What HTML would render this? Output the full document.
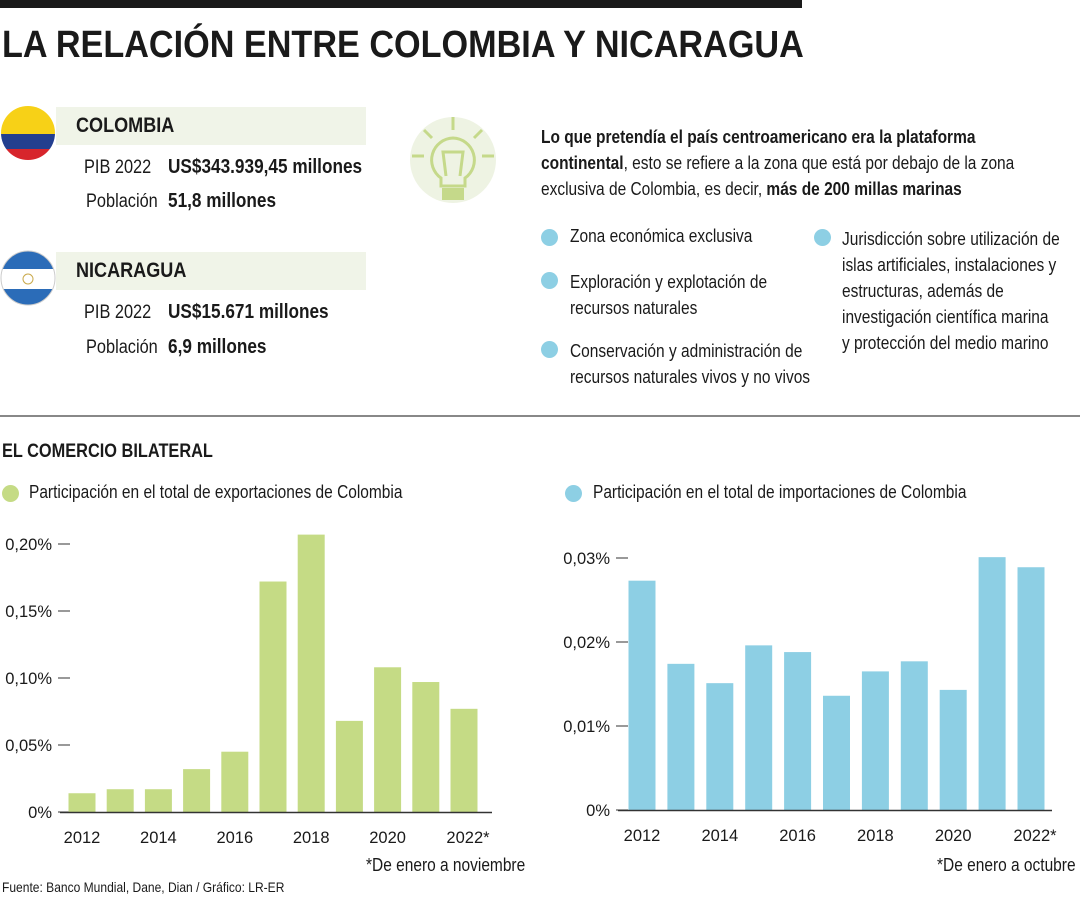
<!DOCTYPE html>
<html><head><meta charset="utf-8">
<style>
body{margin:0;width:1080px;height:900px;background:#fff;font-family:"Liberation Sans Narrow","Liberation Sans",sans-serif;color:#1a1a1a;position:relative;overflow:hidden}
.a{position:absolute;white-space:nowrap}
.n{transform:scaleX(.86);transform-origin:0 0}
.b{font-weight:bold}
.dot{position:absolute;width:17px;height:17px;border-radius:50%;background:#8dcfe4}
</style></head><body>
<div class="a" style="left:0;top:0;width:802px;height:8px;background:#1a1a1a"></div>
<div class="a b" style="left:2px;top:24px;font-size:38px;transform:scaleX(.9);transform-origin:0 0">LA RELACIÓN ENTRE COLOMBIA Y NICARAGUA</div>

<div class="a" style="left:56px;top:107px;width:310px;height:38px;background:#f0f4e8"></div>
<svg class="a" style="left:0;top:105px" width="58" height="58"><defs><clipPath id="c1"><circle cx="28" cy="28" r="27"/></clipPath></defs><g clip-path="url(#c1)"><rect width="58" height="29" fill="#f7d117"/><rect y="29" width="58" height="15" fill="#233f8f"/><rect y="44" width="58" height="14" fill="#d7252c"/></g></svg>
<div class="a b n" style="left:76px;top:114px;font-size:21px">COLOMBIA</div>
<div class="a n" style="left:84px;top:157px;font-size:19px">PIB 2022</div>
<div class="a b n" style="left:168px;top:156px;font-size:20px">US$343.939,45 millones</div>
<div class="a n" style="left:86px;top:191px;font-size:19px">Población</div>
<div class="a b n" style="left:168px;top:190px;font-size:20px">51,8 millones</div>

<div class="a" style="left:56px;top:252px;width:310px;height:38px;background:#f0f4e8"></div>
<svg class="a" style="left:0;top:250px" width="58" height="58"><defs><clipPath id="c2"><circle cx="28" cy="28" r="27"/></clipPath></defs><g clip-path="url(#c2)"><rect width="58" height="19" fill="#2b6cb8"/><rect y="19" width="58" height="20" fill="#fff"/><rect y="39" width="58" height="19" fill="#2b6cb8"/></g><circle cx="28" cy="29" r="5" fill="none" stroke="#c9a94b"/><circle cx="28" cy="28" r="27" fill="none" stroke="#ccc"/></svg>
<div class="a b n" style="left:76px;top:259px;font-size:21px">NICARAGUA</div>
<div class="a n" style="left:84px;top:302px;font-size:19px">PIB 2022</div>
<div class="a b n" style="left:168px;top:301px;font-size:20px">US$15.671 millones</div>
<div class="a n" style="left:86px;top:337px;font-size:19px">Población</div>
<div class="a b n" style="left:168px;top:336px;font-size:20px">6,9 millones</div>

<svg class="a" style="left:410px;top:110px" width="100" height="100"><circle cx="43" cy="50" r="43" fill="#eef3e3"/><g stroke="#c5d98a" stroke-width="3" fill="none"><line x1="43" y1="7" x2="43" y2="20"/><line x1="14" y1="20" x2="22" y2="28"/><line x1="72" y1="20" x2="64" y2="28"/><line x1="2" y1="46" x2="14" y2="46"/><line x1="72" y1="46" x2="84" y2="46"/><path d="M43 28 a22 22 0 0 1 12 40 v8 h-24 v-8 a22 22 0 0 1 12 -40z"/><path d="M36 66 l-3 -24 h20 l-3 24"/></g><rect x="32" y="78" width="22" height="12" fill="#c5d98a"/></svg>

<div class="a n" style="left:541px;top:124px;font-size:18px;line-height:26px"><b>Lo que pretendía el país centroamericano era la plataforma</b><br><b>continental</b>, esto se refiere a la zona que está por debajo de la zona<br>exclusiva de Colombia, es decir, <b>más de 200 millas marinas</b></div>

<div class="dot" style="left:541px;top:229px"></div>
<div class="a n" style="left:570px;top:226px;font-size:18px">Zona económica exclusiva</div>
<div class="dot" style="left:541px;top:272px"></div>
<div class="a n" style="left:570px;top:269px;font-size:18px;line-height:26px">Exploración y explotación de<br>recursos naturales</div>
<div class="dot" style="left:541px;top:341px"></div>
<div class="a n" style="left:570px;top:338px;font-size:18px;line-height:26px">Conservación y administración de<br>recursos naturales vivos y no vivos</div>
<div class="dot" style="left:814px;top:229px"></div>
<div class="a n" style="left:842px;top:226px;font-size:18px;line-height:26px">Jurisdicción sobre utilización de<br>islas artificiales, instalaciones y<br>estructuras, además de<br>investigación científica marina<br>y protección del medio marino</div>

<div class="a" style="left:0;top:415px;width:1080px;height:2px;background:#888"></div>
<div class="a b n" style="left:2px;top:441px;font-size:19px">EL COMERCIO BILATERAL</div>
<div class="dot" style="left:2px;top:485px;background:#c5db85"></div>
<div class="a n" style="left:29px;top:482px;font-size:18px">Participación en el total de exportaciones de Colombia</div>
<div class="dot" style="left:565px;top:485px"></div>
<div class="a n" style="left:593px;top:482px;font-size:18px">Participación en el total de importaciones de Colombia</div>

<svg class="a" id="charts" style="left:0;top:0" width="1080" height="900"></svg>

<div class="a n" style="left:366px;top:855px;font-size:18px">*De enero a noviembre</div>
<div class="a n" style="left:937px;top:855px;font-size:18px">*De enero a octubre</div>
<div class="a n" style="left:2px;top:879px;font-size:14px">Fuente:  Banco Mundial, Dane, Dian / Gráfico: LR-ER</div>

<script>
const years=["2012","2013","2014","2015","2016","2017","2018","2019","2020","2021","2022"];
const yearLabels=["2012","","2014","","2016","","2018","","2020","","2022*"];
const exportsVals=[0.014,0.017,0.017,0.032,0.045,0.172,0.207,0.068,0.108,0.097,0.077];
const importsVals=[0.0273,0.0174,0.0151,0.0196,0.0188,0.0136,0.0165,0.0177,0.0143,0.0301,0.0289];
const exportTicks=[0,0.05,0.10,0.15,0.20];
const exportTickLabels=["0%","0,05%","0,10%","0,15%","0,20%"];
const importTicks=[0,0.01,0.02,0.03];
const importTickLabels=["0%","0,01%","0,02%","0,03%"];
const NS="http://www.w3.org/2000/svg";
const svg=document.getElementById('charts');
const FF='"Liberation Sans Narrow","Liberation Sans",sans-serif';
function mk(t,a){const e=document.createElementNS(NS,t);for(const k in a)e.setAttribute(k,a[k]);svg.appendChild(e);return e;}
function chart(cfg){
  const y=v=>cfg.y0-(v/cfg.vmax)*(cfg.y0-cfg.ytop);
  const x=i=>cfg.x0+i*cfg.step;
  cfg.ticks.forEach((t,i)=>{
    const l=mk('line',{x1:cfg.tx+6,x2:cfg.tx+18,y1:y(t),y2:y(t),stroke:'#333','stroke-width':1});
    
    
    const tx=mk('text',{x:cfg.tx,y:y(t)+6,'text-anchor':'end','font-size':16.5,fill:'#1a1a1a','font-family':FF});
    tx.textContent=cfg.labels[i];
    
    
  });
  cfg.vals.forEach((v,i)=>{
    const r=mk('rect',{x:x(i)-13.5,y:y(v),width:27,height:cfg.y0-y(v),fill:cfg.color});
    
    
  });
  const ax=mk('line',{x1:cfg.axl,x2:cfg.axr,y1:cfg.y0+0.5,y2:cfg.y0+0.5,stroke:'#333','stroke-width':1.5});
  
  
  yearLabels.forEach((s,i)=>{
    if(!s)return;
    const t=mk('text',{x:x(i)+(s.includes('*')?4:0),y:cfg.y0+31,'text-anchor':'middle','font-size':16.5,fill:'#1a1a1a','font-family':FF});
    t.textContent=s;
    
    
  });
}
chart({vals:exportsVals,ticks:exportTicks,labels:exportTickLabels,vmax:0.20,y0:812,ytop:544,x0:82,step:38.2,tx:52,axl:60,axr:492,color:'#c5db85'});
chart({vals:importsVals,ticks:importTicks,labels:importTickLabels,vmax:0.03,y0:810,ytop:558,x0:642,step:38.9,tx:610,axl:618,axr:1052,color:'#8dcfe4'});
</script>
</body></html>
